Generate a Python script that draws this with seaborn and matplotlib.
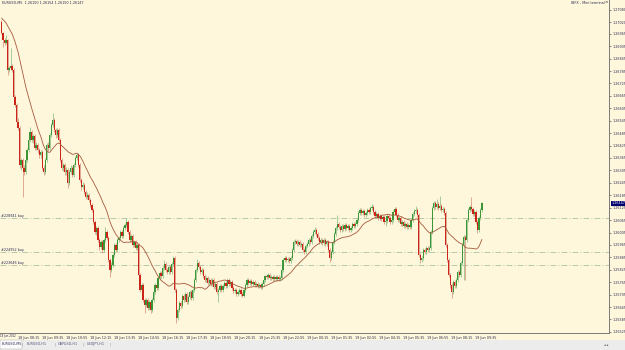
import numpy as np
import pandas as pd
import matplotlib
matplotlib.use("Agg")
import matplotlib.pyplot as plt
import matplotlib.transforms as mtransforms
from matplotlib.patches import Rectangle
import seaborn as sns

# ---------------- data ----------------
symbol = "EURUSD,M5"
header_quote = ["1.26150", "1.26154", "1.26150", "1.26147"]
first_bar_time = "2012-06-18 07:25"
ma_period = 21

# closes of the 20 bars before the first visible one (only feed the moving average)
prior_closes = [1.27080, 1.27089, 1.27099, 1.27085, 1.27070, 1.27075, 1.27060, 1.27051, 1.27060, 1.27041,
                1.27031, 1.27041, 1.27021, 1.27012, 1.27026, 1.27007, 1.26997, 1.27012, 1.27002, 1.27021]
first_open = 1.27021

closes = [
    1.26969, 1.26935, 1.26921, 1.26935, 1.26790, 1.26799, 1.26809, 1.26790, 1.26659, 1.26621,
    1.26538, 1.26509, 1.26331, 1.26355, 1.26316, 1.26297, 1.26355, 1.26404, 1.26452, 1.26490,
    1.26452, 1.26471, 1.26413, 1.26428, 1.26404, 1.26380, 1.26394, 1.26316, 1.26297, 1.26355,
    1.26428, 1.26413, 1.26476, 1.26524, 1.26548, 1.26500, 1.26476, 1.26500, 1.26452, 1.26355,
    1.26316, 1.26331, 1.26297, 1.26307, 1.26245, 1.26297, 1.26316, 1.26283, 1.26331, 1.26365,
    1.26380, 1.26331, 1.26259, 1.26225, 1.26235, 1.26200, 1.26176, 1.26186, 1.26162, 1.26138,
    1.26114, 1.26055, 1.26007, 1.26026, 1.25969, 1.25935, 1.25959, 1.25921, 1.25969, 1.26007,
    1.25978, 1.25872, 1.25824, 1.25848, 1.25897, 1.25945, 1.25921, 1.25969, 1.25978, 1.26007,
    1.25988, 1.26026, 1.26041, 1.26055, 1.26007, 1.25969, 1.25988, 1.25945, 1.25959, 1.25930,
    1.25945, 1.25800, 1.25727, 1.25752, 1.25679, 1.25655, 1.25679, 1.25640, 1.25669, 1.25631,
    1.25679, 1.25717, 1.25752, 1.25737, 1.25785, 1.25810, 1.25795, 1.25833, 1.25853, 1.25824,
    1.25814, 1.25838, 1.25814, 1.25853, 1.25882, 1.25727, 1.25592, 1.25631, 1.25665, 1.25650,
    1.25698, 1.25679, 1.25708, 1.25669, 1.25693, 1.25717, 1.25688, 1.25727, 1.25776, 1.25824,
    1.25858, 1.25838, 1.25814, 1.25824, 1.25795, 1.25776, 1.25785, 1.25762, 1.25776, 1.25757,
    1.25776, 1.25742, 1.25757, 1.25717, 1.25727, 1.25747, 1.25727, 1.25747, 1.25762, 1.25747,
    1.25776, 1.25757, 1.25766, 1.25737, 1.25722, 1.25727, 1.25708, 1.25717, 1.25727, 1.25708,
    1.25698, 1.25727, 1.25752, 1.25776, 1.25762, 1.25771, 1.25757, 1.25766, 1.25752, 1.25757,
    1.25747, 1.25752, 1.25742, 1.25757, 1.25776, 1.25795, 1.25790, 1.25800, 1.25785, 1.25790,
    1.25781, 1.25790, 1.25781, 1.25790, 1.25781, 1.25785, 1.25824, 1.25872, 1.25882, 1.25872,
    1.25878, 1.25867, 1.25882, 1.25921, 1.25959, 1.25964, 1.25950, 1.25959, 1.25945, 1.25950,
    1.25921, 1.25911, 1.25940, 1.25950, 1.25969, 1.25959, 1.25988, 1.26007, 1.26017, 1.25998,
    1.25978, 1.25959, 1.25969, 1.25955, 1.25969, 1.25950, 1.25959, 1.25921, 1.25882, 1.25911,
    1.25959, 1.25998, 1.26026, 1.26046, 1.26031, 1.26017, 1.26036, 1.26022, 1.26041, 1.26026,
    1.26036, 1.26017, 1.26026, 1.26046, 1.26036, 1.26046, 1.26065, 1.26100, 1.26114, 1.26100,
    1.26109, 1.26090, 1.26100, 1.26114, 1.26104, 1.26123, 1.26128, 1.26104, 1.26085, 1.26095,
    1.26075, 1.26085, 1.26071, 1.26080, 1.26055, 1.26060, 1.26085, 1.26075, 1.26055, 1.26065,
    1.26104, 1.26119, 1.26090, 1.26065, 1.26075, 1.26046, 1.26055, 1.26036, 1.26046, 1.26031,
    1.26041, 1.26031, 1.26065, 1.26095, 1.26109, 1.26114, 1.26090, 1.25897, 1.25872, 1.25882,
    1.25921, 1.25911, 1.25930, 1.25921, 1.25930, 1.26007, 1.26123, 1.26148, 1.26128, 1.26143,
    1.26123, 1.26133, 1.26114, 1.26119, 1.26100, 1.25945, 1.25872, 1.25800, 1.25752, 1.25717,
    1.25766, 1.25747, 1.25776, 1.25814, 1.25800, 1.25858, 1.25945, 1.25983, 1.25969, 1.26065,
    1.26114, 1.26128, 1.26119, 1.26095, 1.26104, 1.26055, 1.26017, 1.26075, 1.26114, 1.26147,
]

highs = [
    1.27031, 1.26973, 1.26944, 1.26959, 1.26940, 1.26809, 1.26896, 1.26819, 1.26799, 1.26669,
    1.26631, 1.26558, 1.26519, 1.26365, 1.26365, 1.26331, 1.26365, 1.26413, 1.26461, 1.26514,
    1.26500, 1.26481, 1.26481, 1.26442, 1.26438, 1.26413, 1.26404, 1.26404, 1.26331, 1.26365,
    1.26438, 1.26442, 1.26486, 1.26534, 1.26583, 1.26558, 1.26509, 1.26509, 1.26509, 1.26461,
    1.26365, 1.26341, 1.26341, 1.26321, 1.26316, 1.26307, 1.26331, 1.26326, 1.26341, 1.26375,
    1.26390, 1.26390, 1.26341, 1.26268, 1.26249, 1.26245, 1.26210, 1.26200, 1.26196, 1.26171,
    1.26148, 1.26123, 1.26065, 1.26036, 1.26036, 1.25978, 1.25969, 1.25969, 1.25978, 1.26031,
    1.26017, 1.25988, 1.25882, 1.25862, 1.25907, 1.25955, 1.25955, 1.25978, 1.25988, 1.26017,
    1.26017, 1.26036, 1.26051, 1.26075, 1.26065, 1.26017, 1.25998, 1.25998, 1.25969, 1.25969,
    1.25955, 1.25955, 1.25810, 1.25762, 1.25762, 1.25688, 1.25688, 1.25688, 1.25679, 1.25679,
    1.25688, 1.25727, 1.25762, 1.25762, 1.25795, 1.25819, 1.25819, 1.25843, 1.25872, 1.25862,
    1.25833, 1.25848, 1.25848, 1.25862, 1.25892, 1.25892, 1.25737, 1.25640, 1.25674, 1.25674,
    1.25708, 1.25708, 1.25717, 1.25717, 1.25703, 1.25727, 1.25727, 1.25737, 1.25785, 1.25833,
    1.25878, 1.25867, 1.25848, 1.25833, 1.25833, 1.25805, 1.25795, 1.25795, 1.25785, 1.25785,
    1.25785, 1.25785, 1.25766, 1.25766, 1.25737, 1.25757, 1.25757, 1.25757, 1.25771, 1.25771,
    1.25785, 1.25785, 1.25776, 1.25776, 1.25747, 1.25737, 1.25737, 1.25727, 1.25737, 1.25737,
    1.25717, 1.25737, 1.25762, 1.25785, 1.25785, 1.25781, 1.25781, 1.25776, 1.25776, 1.25766,
    1.25766, 1.25762, 1.25762, 1.25766, 1.25785, 1.25800, 1.25805, 1.25810, 1.25810, 1.25800,
    1.25800, 1.25800, 1.25800, 1.25800, 1.25800, 1.25795, 1.25833, 1.25882, 1.25892, 1.25892,
    1.25887, 1.25887, 1.25892, 1.25930, 1.25969, 1.25974, 1.25974, 1.25969, 1.25969, 1.25959,
    1.25959, 1.25930, 1.25950, 1.25959, 1.25978, 1.25978, 1.25998, 1.26017, 1.26031, 1.26026,
    1.26007, 1.25988, 1.25978, 1.25978, 1.25978, 1.25978, 1.25969, 1.25969, 1.25930, 1.25921,
    1.25969, 1.26007, 1.26036, 1.26090, 1.26055, 1.26041, 1.26046, 1.26046, 1.26051, 1.26051,
    1.26046, 1.26046, 1.26036, 1.26055, 1.26055, 1.26055, 1.26075, 1.26109, 1.26123, 1.26123,
    1.26119, 1.26119, 1.26109, 1.26123, 1.26123, 1.26133, 1.26143, 1.26138, 1.26114, 1.26104,
    1.26104, 1.26095, 1.26095, 1.26090, 1.26090, 1.26071, 1.26095, 1.26095, 1.26085, 1.26075,
    1.26114, 1.26128, 1.26128, 1.26100, 1.26085, 1.26085, 1.26065, 1.26065, 1.26055, 1.26055,
    1.26051, 1.26051, 1.26075, 1.26104, 1.26119, 1.26133, 1.26123, 1.26100, 1.25907, 1.25892,
    1.25930, 1.25930, 1.25940, 1.25940, 1.25940, 1.26017, 1.26133, 1.26157, 1.26157, 1.26167,
    1.26152, 1.26181, 1.26143, 1.26128, 1.26128, 1.26109, 1.25955, 1.25882, 1.25810, 1.25762,
    1.25776, 1.25776, 1.25785, 1.25824, 1.25824, 1.25867, 1.25955, 1.25993, 1.25993, 1.26075,
    1.26123, 1.26138, 1.26176, 1.26128, 1.26114, 1.26114, 1.26065, 1.26085, 1.26123, 1.26154,
]

lows = [
    1.26964, 1.26901, 1.26911, 1.26916, 1.26766, 1.26780, 1.26790, 1.26780, 1.26650, 1.26611,
    1.26529, 1.26500, 1.26316, 1.26307, 1.26176, 1.26283, 1.26288, 1.26345, 1.26394, 1.26442,
    1.26442, 1.26438, 1.26404, 1.26404, 1.26390, 1.26365, 1.26365, 1.26307, 1.26283, 1.26288,
    1.26345, 1.26399, 1.26404, 1.26466, 1.26514, 1.26490, 1.26461, 1.26466, 1.26442, 1.26345,
    1.26307, 1.26302, 1.26283, 1.26283, 1.26220, 1.26235, 1.26288, 1.26273, 1.26273, 1.26321,
    1.26355, 1.26321, 1.26249, 1.26210, 1.26216, 1.26191, 1.26167, 1.26167, 1.26152, 1.26128,
    1.26104, 1.26046, 1.25998, 1.25993, 1.25959, 1.25921, 1.25926, 1.25907, 1.25911, 1.25959,
    1.25969, 1.25862, 1.25790, 1.25814, 1.25838, 1.25887, 1.25911, 1.25911, 1.25959, 1.25969,
    1.25978, 1.25978, 1.26017, 1.26031, 1.25998, 1.25959, 1.25959, 1.25935, 1.25935, 1.25921,
    1.25921, 1.25790, 1.25717, 1.25717, 1.25669, 1.25617, 1.25645, 1.25631, 1.25631, 1.25617,
    1.25621, 1.25669, 1.25708, 1.25727, 1.25727, 1.25776, 1.25785, 1.25785, 1.25824, 1.25814,
    1.25805, 1.25805, 1.25805, 1.25805, 1.25843, 1.25717, 1.25568, 1.25582, 1.25621, 1.25640,
    1.25640, 1.25669, 1.25669, 1.25660, 1.25660, 1.25684, 1.25679, 1.25679, 1.25717, 1.25766,
    1.25814, 1.25829, 1.25805, 1.25805, 1.25785, 1.25766, 1.25766, 1.25752, 1.25752, 1.25747,
    1.25747, 1.25733, 1.25733, 1.25708, 1.25669, 1.25717, 1.25717, 1.25717, 1.25737, 1.25737,
    1.25737, 1.25747, 1.25747, 1.25727, 1.25713, 1.25713, 1.25698, 1.25698, 1.25708, 1.25698,
    1.25693, 1.25693, 1.25717, 1.25742, 1.25752, 1.25752, 1.25747, 1.25747, 1.25742, 1.25742,
    1.25737, 1.25737, 1.25733, 1.25733, 1.25747, 1.25766, 1.25781, 1.25781, 1.25776, 1.25776,
    1.25771, 1.25771, 1.25771, 1.25771, 1.25771, 1.25771, 1.25776, 1.25814, 1.25862, 1.25862,
    1.25862, 1.25858, 1.25858, 1.25872, 1.25911, 1.25950, 1.25940, 1.25940, 1.25935, 1.25935,
    1.25911, 1.25902, 1.25902, 1.25930, 1.25940, 1.25950, 1.25950, 1.25978, 1.25998, 1.25988,
    1.25969, 1.25950, 1.25950, 1.25945, 1.25945, 1.25940, 1.25940, 1.25911, 1.25862, 1.25872,
    1.25902, 1.25950, 1.25988, 1.26017, 1.26022, 1.26007, 1.26007, 1.26012, 1.26012, 1.26017,
    1.26017, 1.26007, 1.26007, 1.26017, 1.26026, 1.26026, 1.26036, 1.26055, 1.26090, 1.26090,
    1.26090, 1.26080, 1.26080, 1.26090, 1.26095, 1.26095, 1.26114, 1.26095, 1.26075, 1.26075,
    1.26065, 1.26065, 1.26060, 1.26060, 1.26046, 1.26036, 1.26051, 1.26065, 1.26046, 1.26046,
    1.26055, 1.26095, 1.26080, 1.26055, 1.26055, 1.26036, 1.26036, 1.26026, 1.26026, 1.26022,
    1.26022, 1.26022, 1.26022, 1.26055, 1.26085, 1.26100, 1.26080, 1.25887, 1.25858, 1.25862,
    1.25872, 1.25902, 1.25902, 1.25911, 1.25911, 1.25921, 1.25998, 1.26114, 1.26119, 1.26119,
    1.26114, 1.26114, 1.26104, 1.26104, 1.26090, 1.25935, 1.25862, 1.25790, 1.25737, 1.25688,
    1.25708, 1.25737, 1.25737, 1.25766, 1.25790, 1.25790, 1.25848, 1.25776, 1.25776, 1.25959,
    1.26055, 1.26104, 1.26109, 1.26085, 1.26085, 1.26046, 1.26003, 1.26007, 1.26065, 1.26104,
]

price_ticks = [1.27080, 1.27020, 1.26965, 1.26905, 1.26845, 1.26785, 1.26725, 1.26665, 1.26605,
               1.26545, 1.26485, 1.26425, 1.26365, 1.26305, 1.26245, 1.26185, 1.26125, 1.26065,
               1.26005, 1.25945, 1.25885, 1.25825, 1.25765, 1.25705, 1.25645, 1.25585, 1.25525]

time_label_times = ["2012-06-18 08:15", "2012-06-18 09:35", "2012-06-18 10:55", "2012-06-18 12:15",
                    "2012-06-18 13:35", "2012-06-18 14:55", "2012-06-18 16:15", "2012-06-18 17:35",
                    "2012-06-18 18:55", "2012-06-18 20:15", "2012-06-18 21:35", "2012-06-18 22:55",
                    "2012-06-19 00:15", "2012-06-19 01:35", "2012-06-19 02:55", "2012-06-19 04:15",
                    "2012-06-19 05:35", "2012-06-19 06:55", "2012-06-19 08:15", "2012-06-19 09:35"]
first_date_label = "18 Jun 2012"

order_levels = [1.26075, 1.25911, 1.25848]
order_labels = ["#228941 buy", "#224952 buy", "#223646 buy"]

tabs = ["EURUSD,M5", "EURUSD,H1", "GBPUSD,H1", "USDJPY,H1"]
terminal_title = "IBFX - Mini terminal"

# ---------------- style ----------------
BG = "#fef7dc"
BULL = "#3a9636"
BEAR = "#cc2418"
BULL_WICK = "#98c48c"
BEAR_WICK = "#dc9c84"
MA_COLOR = "#a65a3c"
LEVEL_COLOR = "#a9c3a0"
TXT = "#2b2b55"
FS = 2.4

sns.set_style("white")
plt.rcParams["font.family"] = ["DejaVu Sans"]

W, H = 625, 350
fig = plt.figure(figsize=(W / 100, H / 100), dpi=100)
fig.patch.set_facecolor(BG)

ax_left, ax_right, ax_top, ax_bottom = 0, 609, 0, 333
ax = fig.add_axes([ax_left / W, 1 - ax_bottom / H, (ax_right - ax_left) / W, (ax_bottom - ax_top) / H])
ax.set_facecolor(BG)

c = np.array(closes)
hi = np.array(highs)
lo = np.array(lows)
o = np.r_[first_open, c[:-1]]
n = len(c)
x = np.arange(n)
up = c >= o

# wicks
ax.vlines(x[up], lo[up], hi[up], colors=BULL_WICK, linewidth=0.6, zorder=2)
ax.vlines(x[~up], lo[~up], hi[~up], colors=BEAR_WICK, linewidth=0.6, zorder=2)
# bodies
body_lo = np.minimum(o, c)
body_h = np.maximum(np.abs(c - o), 0.000025)
ax.bar(x[up], body_h[up], bottom=body_lo[up], width=0.85, color=BULL, linewidth=0, zorder=3)
ax.bar(x[~up], body_h[~up], bottom=body_lo[~up], width=0.85, color=BEAR, linewidth=0, zorder=3)

# moving average
all_closes = pd.Series(list(prior_closes) + list(closes))
ma = all_closes.rolling(ma_period).mean().to_numpy()[len(prior_closes):]
sns.lineplot(x=x, y=ma, color=MA_COLOR, linewidth=0.6, ax=ax, zorder=4)

# order lines
for lvl, lab in zip(order_levels, order_labels):
    ax.axhline(lvl, color=LEVEL_COLOR, linewidth=0.6, linestyle=(0, (7, 2.5, 1.2, 2.5)), zorder=1)
    ax.text(-0.6, lvl + 0.00002, lab, fontsize=FS, color=TXT, va="bottom", ha="left", zorder=5)

# axes limits (bar pitch ~1.506 px, first bar at 1.5 px)
px_per_bar = 1.506
ax.set_xlim(-1.5 / px_per_bar, (ax_right - ax_left - 1.5) / px_per_bar)
y_top = 1.27128
y_per_px = 0.0000483
ax.set_ylim(y_top - (ax_bottom - ax_top) * y_per_px, y_top)

# right price axis
ax.yaxis.tick_right()
ax.set_yticks(price_ticks)
ax.set_yticklabels([f"{p:.5f}" for p in price_ticks])
ax.tick_params(axis="y", length=1.6, width=0.5, pad=0.7, labelsize=FS, colors="#555555", labelcolor=TXT)

# time axis
bar_times = pd.date_range(first_bar_time, periods=n, freq="5min")
pos = bar_times.get_indexer(pd.to_datetime(time_label_times))
ax.set_xticks(pos)
ax.set_xticklabels([pd.Timestamp(t).strftime("%d %b %H:%M") for t in time_label_times],
                   ha="left", fontsize=FS, color=TXT)
ax.tick_params(axis="x", length=1.6, width=0.5, pad=0.6, colors="#555555", labelcolor=TXT)
offset = mtransforms.ScaledTranslation(1.0 / 100, 0, fig.dpi_scale_trans)
for lbl in ax.get_xticklabels():
    lbl.set_transform(lbl.get_transform() + offset)
ax.text(0.4 / (ax_right - ax_left), -0.003, first_date_label, transform=ax.transAxes,
        fontsize=1.9, color=TXT, ha="left", va="top", clip_on=False)

for s in ["left", "top"]:
    ax.spines[s].set_visible(False)
for s in ["right", "bottom"]:
    ax.spines[s].set_color("#7a7a7a")
    ax.spines[s].set_linewidth(0.7)
ax.grid(False)

# current price marker
last = closes[-1]
tr = mtransforms.blended_transform_factory(ax.transAxes, ax.transData)
ax.text(1.0 + 2.5 / (ax_right - ax_left), last, f"{last:.5f}", transform=tr, fontsize=FS,
        color="white", ha="left", va="center", clip_on=False, zorder=6,
        bbox=dict(boxstyle="square,pad=0.18", fc="#000070", ec="none"))

# header texts
fig.text(2 / W, 1 - 2.5 / H, f"{symbol}  " + " ".join(header_quote), fontsize=FS, color=TXT,
         ha="left", va="center")
fig.text(571 / W, 1 - 2.5 / H, terminal_title, fontsize=FS, color=TXT, ha="left", va="center")
fig.text(604 / W, 1 - 2.5 / H, "×", fontsize=FS + 0.6, color="#111111", ha="left", va="center")

# tab bar
fig.add_artist(Rectangle((0, 0), 1, 10 / H, transform=fig.transFigure, fc="#ececec", ec="none", zorder=0))
fig.add_artist(Rectangle((0, 10 / H), 1, 0.5 / H, transform=fig.transFigure, fc="#b8b8b8", ec="none", zorder=0))
fig.add_artist(Rectangle((0, 1.5 / H), 22 / W, 8.5 / H, transform=fig.transFigure, fc="#fbfbfb",
                         ec="#a8a8a8", lw=0.3, zorder=1))
tab_x = [1.5, 27, 58, 87]
sep_x = [22, 55, 83, 110]
for tx, t in zip(tab_x, tabs):
    fig.text(tx / W, 5.8 / H, t, fontsize=FS, color=TXT if t == tabs[0] else "#555577",
             ha="left", va="center", zorder=2)
for sx in sep_x:
    fig.text(sx / W, 5.8 / H, "|", fontsize=FS + 0.6, color="#9a9a9a", ha="center", va="center", zorder=2)
fig.text(606 / W, 5.5 / H, "◂ ▸", fontsize=FS, color="#333333", ha="center", va="center", zorder=2)

fig.savefig("out.png", dpi=100, facecolor=fig.get_facecolor())
